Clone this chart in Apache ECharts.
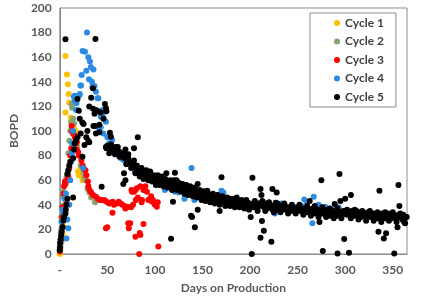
<!DOCTYPE html>
<html>
<head>
<meta charset="utf-8">
<script src="https://cdn.jsdelivr.net/npm/echarts@6/dist/echarts.min.js"></script>
<style>
  html, body { margin: 0; padding: 0; background: #fff; }
  #chart { width: 424px; height: 301px; }
</style>
</head>
<body>
<div id="chart"></div>
<script>
// values as [day, BOPD]
var seriesNames = ['Cycle 1', 'Cycle 2', 'Cycle 3', 'Cycle 4', 'Cycle 5'];
var seriesColors = ['#FFC000', '#86A46E', '#FF0000', '#2B8AE2', '#000000'];

var cycle1 = [[0,0],[0.5,2],[1,5],[2,10],[3,16],[4,22],[4.5,28],[5,33],[6,115],[6,161],[7.5,146],[8.5,138],
  [9.3,130],[10,123],[11.5,111],[12,108],[13,105],[15,102],[17,100],[18,98],[19,67],[20,64],[21,66],[22,70],[23,63],[24,60]];

var cycle2 = [[0,6],[0.5,10],[1,17],[1.5,30],[2,37],[2.5,39],[3,47],[4,51],[5,57],[7,62],[8,65],[9,82],[10,92],
  [11,100],[12,107],[12.5,122],[13,119],[14,110],[15,106],[16,95],[18,88],[20,80],[22,72],[25,66],[26,62],[27,60],
  [29,53],[31,50],[33,46],[37,42]];

var cycle3 = [[0,2],[0.4,6],[1,12],[2,21],[2.5,30],[3,38],[4,49],[4.5,55],[5.5,59],[6,57],[7,42],[8,60],[8.3,64],
  [9,63],[10,70],[11,80],[12,86],[12.4,104],[13,100],[14,98],[15,97],[16,95],[17,92],[18,91],[16.8,90],[18,85],
  [19.3,83],[20,80],[22.7,76],[24,72],[25,70],[27,68],[28,64],[29.6,59],[30,55],[31.3,52],[33,50],[35,48],[38,46.6],
  [40,45],[42,44],[44,44],[46.8,44],[48,43],[50,42],[52,41],[55.5,42.5],[57,40],[60,41],[62,42.5],[64,41],[65.8,40],
  [68,39],[69,37],[70,38],[71,38.5],[55.4,33.6],[50,21.7],[48.5,21],[72,25],[72.6,21],[74,25],[79.5,14],[84,17],
  [84.7,15.5],[88,24.4],[83.5,0],[103.6,6],[75.4,52],[76,50.7],[78,50.7],[79.5,52],[81,53.4],[84.7,55],[86.4,44],
  [88,52],[90,55],[91.6,50.7],[93,44],[95,45],[96,47],[97,42.5],[98,44],[100,40],[102,38.5],[103,42],[80,44],[82,46],
  [86,42],[75,38],[77,40]];

var cycle4 = [[0,4],[0.5,8],[1,10],[1.7,26.5],[2,20],[3,36],[4,33],[5,45],[6.5,49],[7,12.7],[8,28],[9,21],[10,40],
  [11,60],[12,75],[12.7,82],[13,90],[14,100],[14.8,128],[15.5,125],[15.8,128.7],[17.2,117],[17.5,122.5],[18.6,117],
  [20.6,129],[21,130],[21.7,137],[22.4,137],[23,145.5],[24,165],[24.5,70],[26.5,164.5],[27.9,149],[28.6,180],[30,160],
  [30.7,142],[31.7,156.6],[32.7,152],[33.8,140],[34.4,136],[35.4,150],[36.5,136.6],[38,132],[39.6,126.6],[40.6,126.6],
  [41.6,101.6],[43,111.6],[43,103],[45,117],[45,114],[45.8,110],[45.8,98],[48.5,107.6],[50,95],[52,90],[54.7,87],
  [55,92.7],[57,86],[60,82],[62,80],[64,78],[66,77],[68,76],[70,75],[74,75],[76,73.7],[79,67],[82,66],[85,65],[88,64],
  [93,63],[96,62],[100,60],[105,57],[110.5,52],[115,54],[121,50.7],[125,50],[131,45],[135,48],[138.5,70],[141.5,44],
  [145,47],[150,46],[155,49],[160,46],[165.6,48],[170,51.5],[172,50],[175,45],[180,44],[186,42.5],[190,43],[196.6,42.5],
  [200,41],[205,40],[210,41],[214,38.5],[218,40],[222,37],[226,33],[230,39],[233,41],[238,38],[245,38.5],[250,37],
  [254,39],[257,44.4],[260,42],[265.5,25],[267,46.6],[269,39],[272,40],[275,38],[279,38.5],[283,37],[287,36],
  [291,35.8],[293,38]];

var cycle5 = [[0,3],[0.2,5],[0.4,9],[1,12],[1.5,15],[2,18],[3,22],[3.8,27],[4.5,30],[6,33],[6.3,36],[7,40],[8,45],
  [6,174.6],[8,65],[9,68],[10,72],[11,75],[14,46],[14,77.8],[15.8,90],[15,85],[17,92],[18.6,95],[18.6,126],[20,116.5],
  [21,110],[22,98],[23.8,107],[23.8,79],[25,105.7],[26,88.6],[27.9,95],[29,100],[30,92],[31,90.8],[31,120],[33,127],
  [34.8,134.7],[35,118],[35.4,104],[36.5,114],[37,104],[37.5,174.8],[38,98],[38,117],[40,116],[41.6,105],[41.6,99],
  [43,115],[44,54.7],[46,110],[47.5,122],[48.5,118.4],[48.5,87],[49,116],[49,86],[50,88],[51,87],[52.7,98.6],[53,86],
  [53.7,95.4],[55,85],[56,86],[57,84],[58,85],[59,87],[60,83],[61,84],[62,82],[63,83],[64,80],[65,81],[66,79],
  [66.8,57],[67.5,65.6],[68,78],[69,85],[69,60],[70,77],[71,76],[72,78],[73,75],[74,73.6],[75,74],[76,71],[76.8,75],
  [77,72],[78,86],[79.5,65.6],[80,70],[81,69],[82,95],[82,68],[83,67],[84,66],[85,68],[86,66],[87,67],[88,65],[89,64],
  [90,66],[91,65],[92,64],[93,65],[94,63],[95,64],[96,62],[97,63],[98,62],[99,61],[100,62],[101,60],[102,58],[103,61],
  [104,60],[105,61],[106,59],[107,60],[108,59],[109,58],[110,59],[111,58],[112,65.6],[113,58],[114,57],[115,59],
  [116,57],[117,12.5],[118,56],[119,42.5],[120,57],[121,66],[121,57.5],[122,55],[122.6,60],[124,56],[125,54],[126,56],
  [127,55],[128,53],[129,55],[130,54],[131,52],[132,54],[133,53],[134,52],[135,53],[136,51],[137,52],[138,31],[139,30],
  [139,51],[140,50],[141,52],[142,21.7],[142,50],[143,49],[144,51],[145,57],[145,36],[146,49],[147,48],[148,50],
  [149,48],[150,47],[151,49],[152,46],[153,48],[154,47],[155,51.5],[156,46],[157,47],[158,45],[159,46],[160,45],
  [161,47],[162,44],[163,46],[164,45],[165,43],[166,46],[167,44],[168,35],[169,45],[170,62.3],[170,43],[171,44],
  [172,42],[173,45],[174,43],[175,44],[176,42],[177,43],[178,45],[179,42],[180,43],[181,41],[182,44],[183,42],[184,43],
  [185,41],[186,42],[187,40],[188,43],[189,41],[190,42],[191,40],[192,41],[193,43],[194,40],[195,41],[196,39],[197,42],
  [198,40],[199,41],[200,39],[200.7,30],[201.8,0],[202.5,62],[203,40],[204,38],[205,41],[206,39],[207,40],[208,38],
  [209,41],[210,39],[211,52.8],[211,13.3],[212,48],[212.5,26.8],[213,40],[214.5,19],[215,38],[216,39],[217,41],
  [218,37],[219,39],[220,38],[221,40],[222.4,10],[223,38],[223.5,52.8],[224,36],[225,39],[226,37],[227,41.7],[228,50],
  [229,38],[230,36],[231,39],[232,37],[233,38],[234,36],[235,39],[236,37],[237,38],[238,36],[239,38],[240,37],[241,35],
  [242,38],[243,36],[244,37],[245,35],[246,38],[247,36],[248,37],[249,35],[250,38],[251,36],[252,37],[253,35],[254,37],
  [255,36],[256,34],[257,37],[258,35],[259,36],[260,34],[261,37],[262.7,43],[263,35],[264,36],[265,34],[266,37],
  [267,35],[268,33],[269,36],[270,34],[271,36],[272,33],[273,26],[274,35],[275,60],[275,33],[276,36],[276.5,2.4],
  [277,34],[278,35],[279,32],[280,34],[281,36],[282,33],[283,35],[284,31],[285,34],[286,33],[287,35],[288,32],
  [289,40.7],[290,33],[291,31],[292,0.5],[292,34],[293,32],[294,65],[295,43],[296,34],[297,32],[298,35],[299,12.2],
  [300,45],[300,33],[301,35],[302,32],[303,34],[304,1],[305,33],[306,48],[307,35],[308,32],[309,34],[310,31],[311,33],
  [312,35],[313,32],[314,34],[315,31],[316,33],[317,30],[318,34],[319,32],[320,31],[321,33],[322,30],[323,32],[324,34],
  [325,31],[326,33],[327,30],[328,32],[329,31],[330,33],[331,30],[332,32],[333,31],[334,29],[335,18],[336,51.5],
  [336,32],[337,30],[338,31],[339,33],[340,30],[340.6,12.7],[341,32],[342,29],[343,16.8],[344,31],[345,33],[346,30],
  [347,32],[348,31],[349,29],[350,32],[351.6,0.5],[352,30],[353,31],[354,29],[355,21.7],[356,56],[356,32],[357,39],
  [358,30],[359,31],[360,28],[361,32],[362,27.6],[363,25],[364,30],[364.7,30],
  // looser dots above and below the main band
  [52,82],[54,89],[58,81],[61,87],[63,79],[67,82],[70,73],[72,81],[75,70],[78,76],[81,72],[84,63],[86,70],[88,61],
  [91,68],[93,60],[95,67],[97,59],[99,64],[101,56],[103,64],[105,56],[107,63],[109,55],[111,61],[113,54],[116,60],
  [118,52],[120,60],[123,52],[125,58],[127,51],[129,57],[131,49],[133,56],[135,48],[137,55],[140,47],[142,54],[144,46],
  [147,52],[149,44],[151,51],[153,43],[156,49],[158,42],[161,49],[163,41],[166,48],[168,40],[171,47],[174,39],[176,46],
  [179,39],[181,45],[184,38],[186,46],[189,38],[191,44],[194,37],[196,44],[199,36],[205,43],[208,35],[213,43],[216,35],
  [220,42],[225,34],[229,41],[232,34],[236,41],[240,33],[244,40],[248,33],[252,40],[256,32],[260,39],[264,31],[268,39],
  [272,30],[276,38],[280,30],[284,37],[288,29],[292,37],[296,29],[302,36],[306,29],[310,36],[314,28],[318,35],[322,27],
  [326,35],[330,27],[334,34],[338,26],[342,34],[346,27],[350,34],[354,26],[358,33],[362,26]];

var allData = [cycle1, cycle2, cycle3, cycle4, cycle5];

var labelFont = { color: '#595959', fontFamily: 'Lato', fontWeight: 'bold', fontSize: 12 };

var chart = echarts.init(document.getElementById('chart'));
chart.setOption({
  animation: false,
  grid: { left: 52, top: 8, right: 17, bottom: 47, show: true, borderColor: '#8c8c8c', borderWidth: 1 },
  legend: {
    data: seriesNames,
    orient: 'vertical',
    left: 310, top: 13,
    padding: [4, 12, 4, 24],
    itemGap: 6.5,
    itemWidth: 6, itemHeight: 6,
    icon: 'circle',
    borderColor: '#8c8c8c', borderWidth: 1,
    backgroundColor: '#fff',
    textStyle: Object.assign({ lineHeight: 12 }, labelFont, { color: '#404040' })
  },
  xAxis: {
    type: 'value', min: 0, max: 365, interval: 50,
    name: 'Days on Production', nameLocation: 'middle', nameGap: 28,
    nameTextStyle: labelFont,
    axisLine: { lineStyle: { color: '#8c8c8c' } },
    axisTick: { show: false },
    splitLine: { show: false },
    axisLabel: Object.assign({ margin: 10, formatter: function (v) {
      if (v === 0) return '-';
      return v % 50 === 0 ? String(v) : '';
    } }, labelFont)
  },
  yAxis: {
    type: 'value', min: 0, max: 200, interval: 20,
    name: 'BOPD', nameLocation: 'middle', nameGap: 32,
    nameTextStyle: labelFont,
    axisLine: { show: true, lineStyle: { color: '#8c8c8c' } },
    axisTick: { show: false },
    splitLine: { show: false },
    axisLabel: Object.assign({ margin: 8 }, labelFont)
  },
  series: allData.map(function (d, i) {
    return {
      name: seriesNames[i], type: 'scatter', data: d,
      symbolSize: 6,
      itemStyle: { color: seriesColors[i], opacity: 1 }
    };
  })
});
</script>
</body>
</html>
